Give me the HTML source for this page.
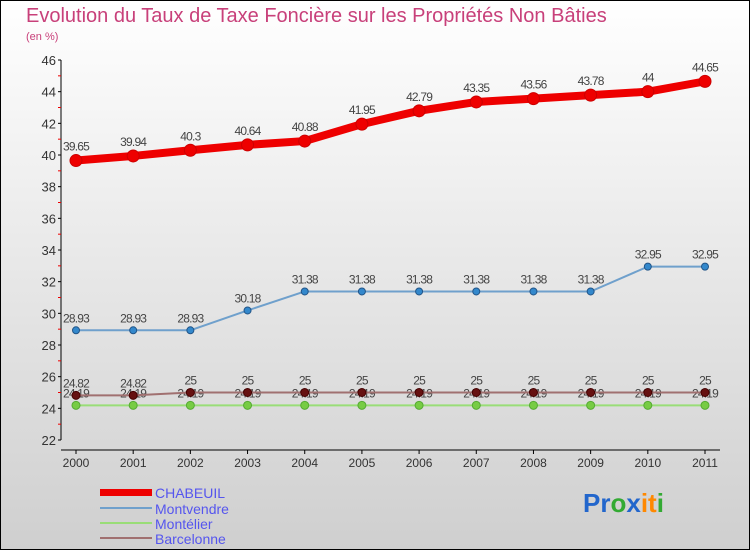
<!DOCTYPE html>
<html><head><meta charset="utf-8"><style>
body{margin:0;}
svg{display:block;font-family:"Liberation Sans",sans-serif;}
</style></head><body>
<svg id="c" width="750" height="550">
<defs><linearGradient id="bg" x1="0" y1="0" x2="0" y2="1"><stop offset="0" stop-color="#ffffff"/><stop offset="1" stop-color="#cfcfcf"/></linearGradient></defs>
<rect x="0.5" y="0.5" width="749" height="549" fill="url(#bg)" stroke="#000"/>
<text x="26" y="22" font-size="20" fill="#c8407a">Evolution du Taux de Taxe Foncière sur les Propriétés Non Bâties</text>
<text x="26" y="40" font-size="11" fill="#c8407a">(en %)</text>
<g id="axes"></g><g id="series"></g>
<g>
<rect x="100" y="489" width="52" height="7" fill="#ee0000"/>
<text x="155" y="498" font-size="14" fill="#5555ee">CHABEUIL</text>
<line x1="100" y1="508" x2="152" y2="508" stroke="#6fa0cc" stroke-width="2"/>
<text x="155" y="514" font-size="14" fill="#5555ee">Montvendre</text>
<line x1="100" y1="523" x2="152" y2="523" stroke="#99dd77" stroke-width="2"/>
<text x="155" y="529" font-size="14" fill="#5555ee">Montélier</text>
<line x1="100" y1="538" x2="152" y2="538" stroke="#a07070" stroke-width="2"/>
<text x="155" y="544" font-size="14" fill="#5555ee">Barcelonne</text>
</g>
<text x="583" y="512" font-size="26" font-weight="bold"><tspan fill="#2266cc">Pr</tspan><tspan fill="#33aa33">o</tspan><tspan fill="#2266cc">x</tspan><tspan fill="#ff8800">it</tspan><tspan fill="#33aa33">i</tspan></text>
</svg>
<script>
const years=[2000,2001,2002,2003,2004,2005,2006,2007,2008,2009,2010,2011];
const chabeuil=[39.65,39.94,40.3,40.64,40.88,41.95,42.79,43.35,43.56,43.78,44,44.65];
const montvendre=[28.93,28.93,28.93,30.18,31.38,31.38,31.38,31.38,31.38,31.38,32.95,32.95];
const montelier=[24.19,24.19,24.19,24.19,24.19,24.19,24.19,24.19,24.19,24.19,24.19,24.19];
const barcelonne=[24.82,24.82,25,25,25,25,25,25,25,25,25,25];
const yTicks=[22,24,26,28,30,32,34,36,38,40,42,44,46];
const NS="http://www.w3.org/2000/svg";
const xs=i=>76+i*(705-76)/(years.length-1);
const ys=v=>440-(v-22)*(380/24);
function mk(t,a,p){const e=document.createElementNS(NS,t);for(const k in a)e.setAttribute(k,a[k]);p.appendChild(e);return e;}
const ax=document.getElementById('axes');
const yl=mk('line',{x1:61,y1:60,x2:61,y2:440,stroke:'#000'},ax);


const xl=mk('line',{x1:61,y1:450,x2:720,y2:450,stroke:'#000'},ax);


yTicks.forEach(v=>{
 const y=ys(v);
 mk('line',{x1:58,y1:y,x2:61,y2:y,stroke:'#000'},ax);
 if(v<46) mk('line',{x1:58,y1:ys(v+1),x2:61,y2:ys(v+1),stroke:'#e00'},ax);
 const t=mk('text',{x:56,y:y+5,'font-size':13,fill:'#333','text-anchor':'end'},ax);
 t.textContent=v;
 
 
});
years.forEach((yr,i)=>{
 const x=xs(i);
 mk('line',{x1:x,y1:450,x2:x,y2:454,stroke:'#000'},ax);
 const t=mk('text',{x:x,y:467,'font-size':12,fill:'#333','text-anchor':'middle'},ax);
 t.textContent=yr;
 
 
});
const sg=document.getElementById('series');
function series(name,vals,color,w,r,dot,stroke,lblOff){
 const g=mk('g',{},sg);
 
 
 const pl=mk('polyline',{points:vals.map((v,i)=>xs(i)+','+ys(v)).join(' '),fill:'none',stroke:color,'stroke-width':w,'stroke-linejoin':'round'},g);
 
 
 vals.forEach((v,i)=>{
  const c=mk('circle',{cx:xs(i),cy:ys(v),r:r,fill:dot,stroke:stroke,'stroke-width':1},g);
  
  
  const t=mk('text',{x:xs(i),y:ys(v)-lblOff,'font-size':12,fill:'#444','text-anchor':'middle','letter-spacing':'-0.8'},g);
  t.textContent=v;
  
  
 });
}
series('montelier',montelier,'#99dd77',2,4,'#77cc44','#55aa33',8);
series('barcelonne',barcelonne,'#a07070',2,4,'#661111','#440000',8);
series('montvendre',montvendre,'#6fa0cc',2,3.5,'#3388cc','#225588',8);
series('chabeuil',chabeuil,'#ee0000',8,6,'#ee0000','#cc0000',10);
</script>
</body></html>
